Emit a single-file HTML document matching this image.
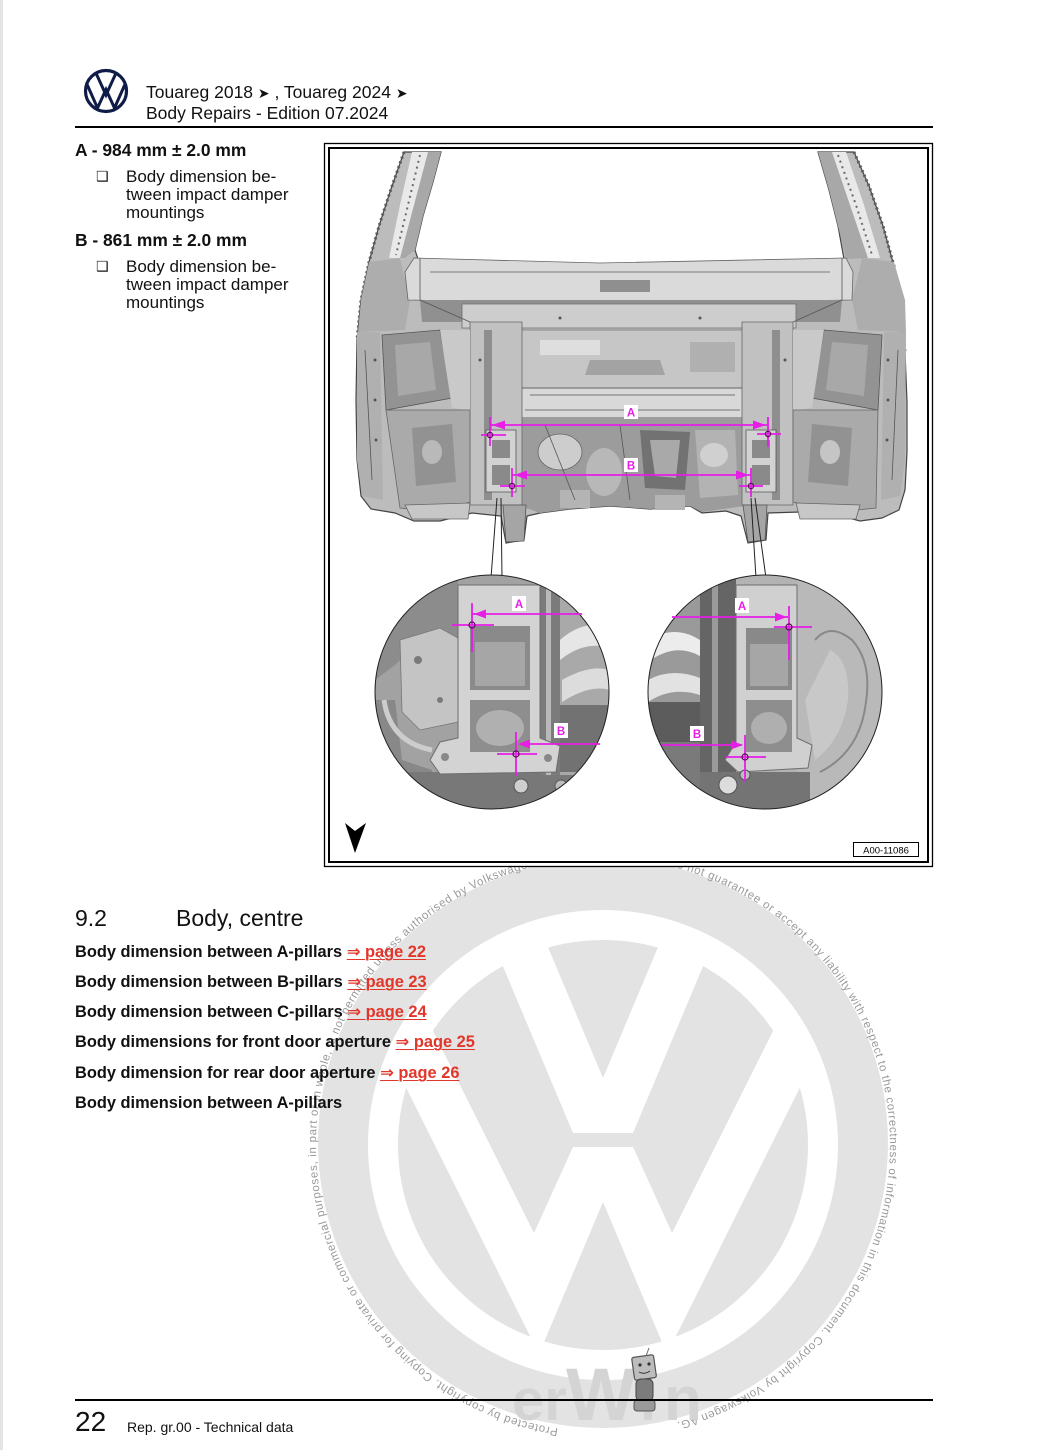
<!DOCTYPE html>
<html>
<head>
<meta charset="utf-8">
<style>
  html,body{margin:0;padding:0;background:#fff;}
  body{width:1060px;height:1450px;position:relative;overflow:hidden;font-family:"Liberation Sans","DejaVu Sans",sans-serif;color:#111;}
  .t{position:absolute;white-space:nowrap;line-height:1;}
  .b{font-weight:bold;}
  .lnk{color:#e2362a;text-decoration:underline;text-decoration-thickness:1px;text-underline-offset:2px;}
  .bul{font-family:"DejaVu Sans",sans-serif;font-size:14px;}
  .arr{font-size:14px;}
  svg{position:absolute;left:0;top:0;}
</style>
</head>
<body>
<svg width="1060" height="1450" viewBox="0 0 1060 1450" xmlns="http://www.w3.org/2000/svg">
  <defs>
    <clipPath id="wmIn"><circle cx="603" cy="1145" r="220"/></clipPath>
    <clipPath id="cl"><circle cx="492" cy="692" r="117"/></clipPath>
    <clipPath id="cr"><circle cx="765" cy="692" r="117"/></clipPath>
    <clipPath id="vwc"><circle cx="106" cy="91" r="20"/></clipPath>
    <path id="wmPath" d="M558.1,1428.5 A287,287 0 1 1 647.9,1428.5"/>
  </defs>

  <!-- faint page edge -->
  <line x1="1.5" y1="0" x2="1.5" y2="1450" stroke="#e4e4e4" stroke-width="3"/>

  <!-- WATERMARK -->
  <circle cx="603" cy="1143" r="285" fill="#e3e3e3"/>
  <circle cx="603" cy="1145" r="220" fill="none" stroke="#fff" stroke-width="30"/>
  <g clip-path="url(#wmIn)" fill="#fff">
    <polygon points="573,1133 447,833 500,833 603,1078 706,833 759,833 633,1133"/>
    <polygon points="335,945 390,945 534,1233 573,1147 633,1147 672,1233 816,945 871,945 667,1354 603,1202 539,1354"/>
  </g>
  <text font-family="Liberation Sans, sans-serif" font-size="11.5" fill="#9a9a9a">
    <textPath href="#wmPath" textLength="1683" lengthAdjust="spacing">Protected by copyright. Copying for private or commercial purposes, in part or in whole, is not permitted unless authorised by Volkswagen AG. Volkswagen AG does not guarantee or accept any liability with respect to the correctness of information in this document. Copyright by Volkswagen AG.</textPath>
  </text>
  <text font-family="Liberation Sans, sans-serif" font-weight="bold" fill="#d4d4d4">
    <tspan x="512" y="1420" font-size="58">er</tspan><tspan x="566" y="1420" font-size="74">W</tspan><tspan x="640" y="1420" font-size="58">i</tspan><tspan x="664" y="1420" font-size="62">n</tspan>
  </text>
  <!-- robot -->
  <g>
    <rect x="633" y="1356" width="22" height="23" rx="2" fill="#bdbdbd" stroke="#555" stroke-width="1.2" transform="rotate(-8 644 1367)"/>
    <line x1="646" y1="1356" x2="649" y2="1348" stroke="#666" stroke-width="1"/>
    <circle cx="640" cy="1365" r="1.6" fill="#333"/><circle cx="649" cy="1364" r="1.6" fill="#333"/>
    <path d="M639,1372 Q644,1375 650,1371" stroke="#333" stroke-width="1" fill="none"/>
    <rect x="636" y="1379" width="17" height="22" rx="5" fill="#7c7c7c" stroke="#444" stroke-width="1"/>
    <rect x="634" y="1400" width="21" height="11" rx="3" fill="#9a9a9a" stroke="#555" stroke-width="1"/>
  </g>

  <!-- header logo -->
  <circle cx="106" cy="91" r="20.5" fill="none" stroke="#0f1c47" stroke-width="3.2"/>
  <g clip-path="url(#vwc)" fill="none" stroke="#0f1c47" stroke-width="3" stroke-linejoin="miter">
    <path d="M95.5,72 L106,95 L116.5,72"/>
    <path d="M86,82 L97.5,108 L106,89.5 L114.5,108 L126,82"/>
  </g>
  <!-- header rule -->
  <line x1="75" y1="127" x2="933" y2="127" stroke="#000" stroke-width="2"/>

  <!-- FIGURE BOX -->
  <rect x="324.5" y="143.5" width="608" height="723" fill="#fff" stroke="#000" stroke-width="1.3"/>
  <rect x="329" y="148" width="599" height="714" fill="#fff" stroke="#000" stroke-width="2"/>

  <!-- CAR BODY -->
  <g>
    <path d="M404,152 L441,152 L433,182 L423,216 L415,250 L418,259 L520,262 L600,264 L700,262 L844,259 L838,226 L829,190 L818,152 L854,152 L869,186 L883,226 L894,266 L901,306 L905,352 L907,402 L907,452 L905,490 L899,510 L882,518 L860,521 L838,515 L800,512 L768,513 L766,540 L748,543 L741,516 L726,511 L702,513 L690,506 L650,509 L610,506 L570,509 L540,513 L527,516 L524,540 L506,543 L501,516 L472,513 L440,521 L414,521 L395,513 L371,509 L361,496 L357,460 L356,400 L357,340 L361,300 L369,262 L379,226 L391,189 Z" fill="#bcbcbc" stroke="#444" stroke-width="1.2"/>
    <!-- pillars -->
    <path d="M428,152 L441,152 L433,182 L423,216 L415,250 L405,258 L398,258 L414,205 Z" fill="#a8a8a8"/>
    <path d="M412,152 L428,152 L414,205 L400,258 L389,258 L400,205 Z" fill="#e9e9e9"/>
    <path d="M818,152 L832,152 L850,205 L868,258 L846,259 L838,226 L829,190 Z" fill="#a8a8a8"/>
    <path d="M832,152 L846,152 L864,205 L880,258 L868,258 L850,205 Z" fill="#e9e9e9"/>
    <path d="M404,152 L391,189 L379,226 L369,262 L361,300 L357,340" stroke="#5e5e5e" stroke-width="3" stroke-dasharray="2,3" fill="none"/>
    <path d="M854,152 L869,186 L883,226 L894,266 L901,306 L905,352" stroke="#5e5e5e" stroke-width="3" stroke-dasharray="2,3" fill="none"/>
    <path d="M420,155 L408,205 L396,255" stroke="#6a6a6a" stroke-width="2" stroke-dasharray="2,4" fill="none"/>
    <path d="M838,155 L856,205 L872,255" stroke="#6a6a6a" stroke-width="2" stroke-dasharray="2,4" fill="none"/>
    <!-- side upper areas -->
    <path d="M361,300 L369,262 L400,258 L410,300 L405,330 L358,332 Z" fill="#adadad"/>
    <path d="M905,300 L894,262 L862,258 L852,300 L858,330 L906,332 Z" fill="#adadad"/>
    <!-- roof header -->
    <path d="M414,258 L600,263 L846,258 L853,272 L852,300 L600,304 L408,300 L405,272 Z" fill="#dadada" stroke="#666" stroke-width="0.8"/>
    <path d="M430,272 L830,272" stroke="#9a9a9a" stroke-width="1.5"/>
    <path d="M600,280 L650,280 L650,292 L600,292 Z" fill="#8f8f8f"/>
    <!-- recess -->
    <path d="M420,300 L842,300 L840,322 L422,322 Z" fill="#909090"/>
    <path d="M462,304 L796,304 L796,328 L462,328 Z" fill="#cdcdcd" stroke="#6d6d6d" stroke-width="0.8"/>
    <!-- center panel -->
    <path d="M520,330 L745,330 L745,388 L520,388 Z" fill="#c6c6c6" stroke="#777" stroke-width="0.8"/>
    <path d="M540,340 L600,340 L600,355 L540,355 Z" fill="#dedede"/>
    <path d="M590,360 L660,360 L665,375 L585,375 Z" fill="#a3a3a3"/>
    <path d="M690,342 L735,342 L735,372 L690,372 Z" fill="#b0b0b0"/>
    <!-- lower crossmember -->
    <path d="M518,388 L746,388 L749,418 L516,418 Z" fill="#d8d8d8" stroke="#666" stroke-width="0.9"/>
    <!-- center lower area -->
    <path d="M516,418 L749,418 L752,505 L702,512 L690,506 L650,509 L610,506 L570,509 L540,513 L518,505 Z" fill="#9c9c9c"/>
    <ellipse cx="560" cy="452" rx="22" ry="18" fill="#cdcdcd" stroke="#666" stroke-width="0.8"/>
    <ellipse cx="604" cy="472" rx="18" ry="24" fill="#b8b8b8"/>
    <path d="M640,430 L690,432 L685,490 L645,488 Z" fill="#727272"/>
    <path d="M695,430 L735,430 L738,495 L700,498 Z" fill="#b3b3b3"/>
    <ellipse cx="714" cy="455" rx="14" ry="12" fill="#d0d0d0"/>
    <path d="M650,440 L680,440 L676,478 L655,476 Z" fill="#a9a9a9"/>
    <path d="M560,490 L590,490 L590,508 L560,508 Z" fill="#b4b4b4"/>
    <path d="M655,495 L685,495 L685,510 L655,510 Z" fill="#b4b4b4"/>
    <!-- inner columns -->
    <path d="M470,322 L522,322 L522,505 L470,505 Z" fill="#c1c1c1" stroke="#666" stroke-width="0.8"/>
    <path d="M484,330 L492,330 L492,500 L484,500 Z" fill="#8e8e8e"/>
    <path d="M486,430 L516,430 L516,492 L486,492 Z" fill="#d2d2d2" stroke="#555" stroke-width="0.8"/>
    <path d="M492,440 L510,440 L510,458 L492,458 Z" fill="#8a8a8a"/>
    <path d="M492,465 L510,465 L510,485 L492,485 Z" fill="#8a8a8a"/>
    <path d="M742,322 L793,322 L793,505 L742,505 Z" fill="#c1c1c1" stroke="#666" stroke-width="0.8"/>
    <path d="M772,330 L780,330 L780,500 L772,500 Z" fill="#8e8e8e"/>
    <path d="M746,430 L776,430 L776,492 L746,492 Z" fill="#d2d2d2" stroke="#555" stroke-width="0.8"/>
    <path d="M752,440 L770,440 L770,458 L752,458 Z" fill="#8a8a8a"/>
    <path d="M752,465 L770,465 L770,485 L752,485 Z" fill="#8a8a8a"/>
    <!-- left side -->
    <path d="M357,332 L380,332 L383,500 L362,496 L357,460 Z" fill="#b0b0b0"/>
    <path d="M382,335 L440,330 L452,398 L386,410 Z" fill="#939393" stroke="#555" stroke-width="0.8"/>
    <path d="M395,345 L430,342 L436,390 L398,396 Z" fill="#a8a8a8"/>
    <path d="M440,330 L470,330 L470,410 L452,408 Z" fill="#c9c9c9"/>
    <path d="M386,410 L470,410 L470,502 L440,512 L400,508 Z" fill="#aaaaaa" stroke="#666" stroke-width="0.8"/>
    <path d="M412,428 L452,424 L456,482 L416,486 Z" fill="#929292"/>
    <ellipse cx="432" cy="452" rx="10" ry="12" fill="#b9b9b9"/>
    <path d="M405,505 L470,503 L468,519 L412,519 Z" fill="#c7c7c7" stroke="#666" stroke-width="0.8"/>
    <!-- right side -->
    <path d="M906,332 L884,332 L881,500 L900,496 L905,460 Z" fill="#b0b0b0"/>
    <path d="M824,330 L882,335 L878,410 L812,398 Z" fill="#939393" stroke="#555" stroke-width="0.8"/>
    <path d="M832,342 L868,345 L864,396 L826,390 Z" fill="#a8a8a8"/>
    <path d="M793,330 L824,330 L812,408 L793,410 Z" fill="#c9c9c9"/>
    <path d="M793,410 L878,410 L876,508 L836,512 L793,502 Z" fill="#aaaaaa" stroke="#666" stroke-width="0.8"/>
    <path d="M812,424 L852,428 L848,486 L808,482 Z" fill="#929292"/>
    <ellipse cx="830" cy="452" rx="10" ry="12" fill="#c5c5c5"/>
    <path d="M796,503 L860,505 L856,519 L800,519 Z" fill="#c7c7c7" stroke="#666" stroke-width="0.8"/>
    <!-- hanging mounts -->
    <path d="M503,505 L526,505 L524,541 L506,542 Z" fill="#a5a5a5" stroke="#555" stroke-width="0.8"/>
    <path d="M743,505 L767,505 L765,540 L748,542 Z" fill="#a5a5a5" stroke="#555" stroke-width="0.8"/>
    <!-- misc detail lines -->
    <g stroke="#555" stroke-width="0.8" fill="none">
      <path d="M365,350 L372,480"/><path d="M898,350 L892,480"/>
      <path d="M420,300 L470,322"/><path d="M842,300 L793,322"/>
      <path d="M530,395 L735,395"/><path d="M525,410 L740,410"/>
      <path d="M545,425 L575,500"/><path d="M620,425 L630,500"/>
      <path d="M420,258 L420,300"/><path d="M842,258 L842,300"/>
    </g>
    <g fill="#555">
      <circle cx="375" cy="360" r="1.5"/><circle cx="375" cy="400" r="1.5"/><circle cx="376" cy="440" r="1.5"/>
      <circle cx="888" cy="360" r="1.5"/><circle cx="888" cy="400" r="1.5"/><circle cx="887" cy="440" r="1.5"/>
      <circle cx="480" cy="360" r="1.5"/><circle cx="785" cy="360" r="1.5"/>
      <circle cx="560" cy="318" r="1.5"/><circle cx="700" cy="318" r="1.5"/>
    </g>
  </g>

  <!-- connectors -->
  <g stroke="#222" stroke-width="1" fill="none">
    <line x1="497" y1="498" x2="491" y2="578"/>
    <line x1="501" y1="498" x2="502" y2="578"/>
    <line x1="751" y1="498" x2="756" y2="578"/>
    <line x1="755" y1="498" x2="766" y2="578"/>
  </g>

  <!-- LEFT CIRCLE -->
  <g clip-path="url(#cl)">
    <rect x="375" y="575" width="234" height="234" fill="#a2a2a2"/>
    <path d="M375,575 H458 V640 C430,640 410,650 395,665 L375,680 Z" fill="#8c8c8c"/>
    <path d="M400,640 L440,628 L458,638 L458,722 L420,730 L402,712 Z" fill="#c4c4c4" stroke="#777" stroke-width="0.8"/>
    <circle cx="418" cy="660" r="4" fill="#7a7a7a"/><circle cx="440" cy="700" r="3" fill="#7a7a7a"/>
    <path d="M375,700 L395,700 L402,760 L432,770 L432,809 L375,809 Z" fill="#888"/>
    <path d="M384,700 Q390,742 432,750" stroke="#cdcdcd" stroke-width="5" fill="none"/>
    <rect x="375" y="772" width="234" height="40" fill="#787878"/>
    <rect x="540" y="575" width="20" height="200" fill="#7b7b7b"/>
    <rect x="546" y="575" width="5" height="200" fill="#b9b9b9"/>
    <rect x="560" y="575" width="50" height="200" fill="#a9a9a9"/>
    <path d="M560,640 Q585,618 610,628 L610,648 Q585,640 560,660 Z" fill="#e6e6e6"/>
    <path d="M562,680 Q590,664 610,670 L610,690 Q590,684 562,702 Z" fill="#dcdcdc"/>
    <rect x="560" y="705" width="50" height="67" fill="#727272"/>
    <path d="M458,585 H540 V738 L560,746 L556,772 L440,774 L430,760 L440,742 L458,738 Z" fill="#d3d3d3" stroke="#6e6e6e" stroke-width="1"/>
    <rect x="470" y="626" width="60" height="64" fill="#8a8a8a"/>
    <rect x="475" y="642" width="50" height="44" fill="#a6a6a6"/>
    <rect x="470" y="700" width="60" height="52" fill="#8e8e8e"/>
    <ellipse cx="500" cy="728" rx="24" ry="18" fill="#b0b0b0"/>
    <circle cx="445" cy="757" r="4" fill="#888"/><circle cx="548" cy="758" r="4" fill="#888"/>
    <circle cx="521" cy="786" r="7" fill="#cfcfcf" stroke="#555" stroke-width="1"/>
    <circle cx="561" cy="786" r="6" fill="#bcbcbc" stroke="#555" stroke-width="1"/>
  </g>
  <circle cx="492" cy="692" r="117" fill="none" stroke="#222" stroke-width="1"/>

  <!-- RIGHT CIRCLE -->
  <g clip-path="url(#cr)">
    <rect x="648" y="575" width="234" height="234" fill="#b3b3b3"/>
    <rect x="648" y="575" width="52" height="240" fill="#9a9a9a"/>
    <path d="M648,640 Q675,624 700,640 L700,656 Q675,642 648,662 Z" fill="#ececec"/>
    <path d="M648,680 Q672,667 700,678 L700,695 Q672,686 648,702 Z" fill="#e2e2e2"/>
    <rect x="648" y="702" width="52" height="40" fill="#5c5c5c"/>
    <path d="M648,742 L700,742 L700,809 L648,809 Z" fill="#7a7a7a"/>
    <rect x="700" y="575" width="36" height="240" fill="#656565"/>
    <rect x="712" y="575" width="6" height="200" fill="#9a9a9a"/>
    <rect x="797" y="575" width="90" height="240" fill="#b9b9b9"/>
    <path d="M815,640 Q830,622 852,640 Q872,662 866,702 Q860,752 820,772" stroke="#888" stroke-width="2" fill="none"/>
    <path d="M830,650 Q850,660 848,700 Q842,740 815,760 L805,700 Z" fill="#c8c8c8"/>
    <rect x="700" y="772" width="110" height="40" fill="#747474"/>
    <path d="M736,585 H797 V738 L812,745 L808,768 L738,772 L725,760 L736,742 Z" fill="#d0d0d0" stroke="#6e6e6e" stroke-width="1"/>
    <rect x="746" y="628" width="46" height="62" fill="#898989"/>
    <rect x="750" y="644" width="38" height="42" fill="#a6a6a6"/>
    <rect x="746" y="700" width="46" height="52" fill="#8e8e8e"/>
    <ellipse cx="769" cy="728" rx="18" ry="16" fill="#afafaf"/>
    <circle cx="728" cy="785" r="9" fill="#dcdcdc" stroke="#555" stroke-width="1"/>
    <circle cx="745" cy="775" r="5" fill="#bdbdbd" stroke="#555" stroke-width="1"/>
  </g>
  <circle cx="765" cy="692" r="117" fill="none" stroke="#222" stroke-width="1"/>

  <!-- MAGENTA DIMENSIONS -->
  <g stroke="#e61ee6" stroke-width="1.8" fill="none">
    <line x1="490" y1="425" x2="768" y2="425"/>
    <line x1="490" y1="417" x2="490" y2="446"/>
    <line x1="768" y1="417" x2="768" y2="447"/>
    <line x1="481" y1="435" x2="506" y2="435"/>
    <line x1="757" y1="434" x2="781" y2="434"/>
    <line x1="512" y1="475" x2="751" y2="475"/>
    <line x1="512" y1="468" x2="512" y2="497"/>
    <line x1="751" y1="468" x2="751" y2="497"/>
    <line x1="500" y1="486" x2="525" y2="486"/>
    <line x1="739" y1="486" x2="763" y2="486"/>
    <!-- left circle -->
    <line x1="472" y1="614" x2="582" y2="614"/>
    <line x1="472" y1="603" x2="472" y2="652"/>
    <line x1="452" y1="625" x2="494" y2="625"/>
    <line x1="520" y1="744" x2="600" y2="744"/>
    <line x1="516" y1="732" x2="516" y2="776"/>
    <line x1="497" y1="754" x2="537" y2="754"/>
    <!-- right circle -->
    <line x1="672" y1="617" x2="788" y2="617"/>
    <line x1="789" y1="606" x2="789" y2="660"/>
    <line x1="774" y1="627" x2="812" y2="627"/>
    <line x1="662" y1="745" x2="742" y2="745"/>
    <line x1="745" y1="735" x2="745" y2="782"/>
    <line x1="726" y1="757" x2="766" y2="757"/>
  </g>
  <g fill="#e61ee6">
    <polygon points="492,425 505,420.5 505,429.5"/>
    <polygon points="766,425 753,420.5 753,429.5"/>
    <polygon points="514,475 527,470.5 527,479.5"/>
    <polygon points="749,475 736,470.5 736,479.5"/>
    <polygon points="474,614 486,609.5 486,618.5"/>
    <polygon points="518,744 530,739.5 530,748.5"/>
    <polygon points="787,617 775,612.5 775,621.5"/>
    <polygon points="743,745 731,740.5 731,749.5"/>
  </g>
  <g fill="none" stroke="#5a0a5a" stroke-width="1.2">
    <circle cx="490" cy="435" r="2.6"/><circle cx="768" cy="434" r="2.6"/>
    <circle cx="512" cy="486" r="2.6"/><circle cx="751" cy="486" r="2.6"/>
    <circle cx="472" cy="625" r="3"/><circle cx="516" cy="754" r="3"/>
    <circle cx="789" cy="627" r="3"/><circle cx="745" cy="757" r="3"/>
  </g>
  <g font-family="Liberation Sans, sans-serif" font-weight="bold" font-size="11.5" fill="#e61ee6" text-anchor="middle">
    <rect x="624" y="405" width="14" height="14" fill="#fff"/>
    <text x="631" y="416.5">A</text>
    <rect x="624" y="458" width="14" height="14" fill="#fff"/>
    <text x="631" y="469.5">B</text>
    <rect x="512" y="596" width="14" height="15" fill="#fff"/>
    <text x="519" y="608">A</text>
    <rect x="554" y="723" width="14" height="15" fill="#fff"/>
    <text x="561" y="735">B</text>
    <rect x="735" y="598" width="14" height="15" fill="#fff"/>
    <text x="742" y="610">A</text>
    <rect x="690" y="726" width="14" height="15" fill="#fff"/>
    <text x="697" y="738">B</text>
  </g>

  <!-- arrow marker & id label -->
  <polygon points="345,823 355,831 366,823 355,853" fill="#000"/>
  <rect x="853.5" y="842.5" width="65" height="14" fill="#fff" stroke="#000" stroke-width="1"/>
  <text x="886" y="853.5" font-family="Liberation Sans, sans-serif" font-size="9.5" text-anchor="middle" fill="#000">A00-11086</text>

  <!-- footer rule -->
  <line x1="75" y1="1400" x2="933" y2="1400" stroke="#000" stroke-width="2"/>
</svg>

<!-- HEADER TEXT -->
<div class="t" style="left:146px;top:84.2px;font-size:17.5px;">Touareg 2018 <span class="arr">➤</span> , Touareg 2024 <span class="arr">➤</span></div>
<div class="t" style="left:146px;top:105.2px;font-size:17.5px;">Body Repairs - Edition 07.2024</div>

<!-- LEFT COLUMN -->
<div class="t b" style="left:75px;top:142.3px;font-size:17.4px;">A - 984 mm ± 2.0 mm</div>
<div class="t bul" style="left:96px;top:170px;">❑</div>
<div class="t" style="left:126px;top:167.6px;font-size:17px;">Body dimension be-</div>
<div class="t" style="left:126px;top:185.6px;font-size:17px;">tween impact damper</div>
<div class="t" style="left:126px;top:203.6px;font-size:17px;">mountings</div>

<div class="t b" style="left:75px;top:232.3px;font-size:17.4px;">B - 861 mm ± 2.0 mm</div>
<div class="t bul" style="left:96px;top:260px;">❑</div>
<div class="t" style="left:126px;top:257.6px;font-size:17px;">Body dimension be-</div>
<div class="t" style="left:126px;top:275.6px;font-size:17px;">tween impact damper</div>
<div class="t" style="left:126px;top:293.6px;font-size:17px;">mountings</div>

<!-- SECTION 9.2 -->
<div class="t" style="left:75px;top:906.5px;font-size:23px;">9.2</div>
<div class="t" style="left:176px;top:906.5px;font-size:23px;">Body, centre</div>

<div class="t b" style="left:75px;top:944.1px;font-size:16.4px;">Body dimension between A-pillars <span class="lnk">⇒ page 22</span></div>
<div class="t b" style="left:75px;top:974.1px;font-size:16.4px;">Body dimension between B-pillars <span class="lnk">⇒ page 23</span></div>
<div class="t b" style="left:75px;top:1004.1px;font-size:16.4px;">Body dimension between C-pillars <span class="lnk">⇒ page 24</span></div>
<div class="t b" style="left:75px;top:1034.1px;font-size:16.4px;">Body dimensions for front door aperture <span class="lnk">⇒ page 25</span></div>
<div class="t b" style="left:75px;top:1065.1px;font-size:16.4px;">Body dimension for rear door aperture <span class="lnk">⇒ page 26</span></div>
<div class="t b" style="left:75px;top:1095.1px;font-size:16.4px;">Body dimension between A-pillars</div>

<!-- FOOTER -->
<div class="t" style="left:75px;top:1408.3px;font-size:28px;">22</div>
<div class="t" style="left:127px;top:1420.1px;font-size:14px;">Rep. gr.00 - Technical data</div>
</body>
</html>
